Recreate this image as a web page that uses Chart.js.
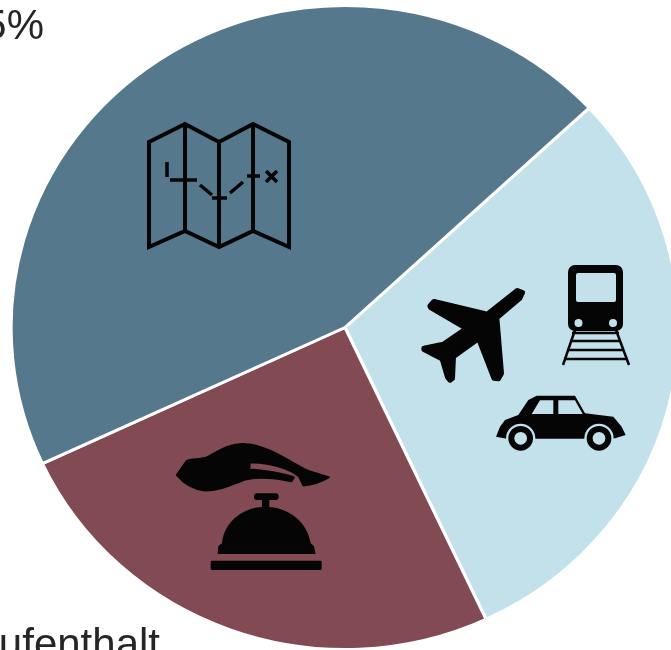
<!DOCTYPE html>
<html>
<head>
<meta charset="utf-8">
<script src="https://cdn.jsdelivr.net/npm/chart.js@4"></script>
<style>
html, body { margin: 0; background: #fff; overflow: hidden; }
#pie { display: block; }
</style>
</head>
<body>
<canvas id="pie" width="671" height="650"></canvas>
<script>
const categories = ['Aktivitäten', 'Anreise', 'Aufenthalt'];
const shares = [45, 30, 25];
const sliceColors = ['#56788c', '#c2e1ea', '#824a53'];

// order on the wheel, clockwise from the light slice
const wheelOrder = [1, 2, 0];

// the pie is a little wider than tall
const WIDEN = 1.037;
const INK = '#050505';

function strokeLines(ctx, lines, width) {
    ctx.lineWidth = width;
    ctx.lineCap = 'butt';
    lines.forEach(l => {
        ctx.beginPath();
        ctx.moveTo(l[0], l[1]);
        for (let i = 2; i < l.length; i += 2) ctx.lineTo(l[i], l[i + 1]);
        ctx.stroke();
    });
}

function drawMap(ctx) {
    ctx.lineJoin = 'miter';
    const outline = new Path2D('M149 142 L185 124 L219 142 L253 124 L289 142 L289 247 L253 231 L219 247 L185 231 L149 247 Z');
    ctx.lineWidth = 4;
    ctx.stroke(outline);
    strokeLines(ctx, [[185, 124, 185, 231], [219, 142, 219, 247], [253, 124, 253, 231]], 4);
    // dashed route across the folds
    strokeLines(ctx, [[167, 162, 167, 177], [170, 180, 197, 180], [200, 185, 212, 195], [212, 198, 227, 198],
        [230, 193, 243, 182], [247, 176, 260, 176], [266, 171, 277, 182], [277, 171, 266, 182]], 3.5);
}

function drawPlane(ctx) {
    ctx.save();
    ctx.translate(400, 250);
    ctx.scale(1 / 3, 1 / 3);
    const p = new Path2D('M352 122 L367 128 L359 145 L290 203 L304 370 L295 386 L282 384 L236 265 L160 320 L157 385 L150 390 L143 382 L127 327 L72 298 L72 295 L130 283 L200 235 L92 172 L90 168 L102 155 L262 193 Z');
    ctx.lineJoin = 'round';
    ctx.lineWidth = 16;
    ctx.fill(p);
    ctx.stroke(p);
    ctx.restore();
}

function drawTrain(ctx, bg) {
    ctx.beginPath();
    ctx.roundRect(568, 265, 55, 66, 7);
    ctx.fill();
    ctx.fillStyle = bg;
    ctx.beginPath();
    ctx.roundRect(576, 273, 40, 29, 2);
    ctx.fill();
    ctx.beginPath();
    ctx.arc(578.5, 323, 4, 0, Math.PI * 2);
    ctx.arc(613, 323, 4, 0, Math.PI * 2);
    ctx.fill();
    ctx.fillStyle = INK;
    // track in perspective
    strokeLines(ctx, [[575, 330, 563, 365], [616, 330, 629, 365]], 2.5);
    strokeLines(ctx, [[572, 333, 619, 333], [570, 341, 621, 341], [567, 350, 624, 350], [564, 359, 627, 359]], 2.5);
}

function drawCar(ctx, bg) {
    ctx.save();
    ctx.translate(400, 250);
    ctx.scale(1 / 3, 1 / 3);
    const body = new Path2D('M288 560 L300 530 L315 510 L355 495 L385 450 L410 437 L525 437 L555 490 L640 500 L665 530 L677 555 L640 566 L320 566 Z');
    ctx.fill(body);
    ctx.fillStyle = bg;
    ctx.fill(new Path2D('M395 492 L420 451 L460 451 L460 492 Z'));
    ctx.fill(new Path2D('M475 492 L475 451 L525 451 L548 492 Z'));
    [362, 597].forEach(x => {
        ctx.fillStyle = bg;
        ctx.beginPath();
        ctx.arc(x, 565, 44, 0, Math.PI * 2);
        ctx.fill();
        ctx.fillStyle = INK;
        ctx.beginPath();
        ctx.arc(x, 565, 37, 0, Math.PI * 2);
        ctx.fill();
        ctx.fillStyle = bg;
        ctx.beginPath();
        ctx.arc(x, 565, 19, 0, Math.PI * 2);
        ctx.fill();
    });
    ctx.restore();
}

function drawBell(ctx) {
    ctx.save();
    ctx.translate(150, 420);
    ctx.scale(1 / 3, 1 / 3);
    // hand above the bell
    const hand = new Path2D('M80 165 L110 122 C130 115 150 120 170 112 C210 90 240 68 290 72 C350 75 420 125 470 150 C495 160 520 165 537 172 C515 185 490 195 460 197 L447 170 C420 145 350 125 300 128 L298 148 C340 150 400 160 432 172 L425 184 C380 175 330 170 290 178 C250 192 210 212 165 212 C130 208 100 190 80 165 Z');
    ctx.lineJoin = 'round';
    ctx.lineWidth = 5;
    ctx.fill(hand);
    ctx.stroke(hand);
    ctx.fill(new Path2D('M203 402 L205 378 L216 370 C222 305 280 260 345 260 C415 260 472 305 482 370 L492 378 L497 402 Z'));
    ctx.beginPath();
    ctx.roundRect(312, 220, 74, 20, 9);
    ctx.roundRect(336, 235, 22, 35, 2);
    ctx.roundRect(182, 422, 333, 28, 4);
    ctx.fill();
    ctx.restore();
}

const widenPie = {
    id: 'widenPie',
    beforeDatasetsDraw(chart) {
        const arc = chart.getDatasetMeta(0).data[0];
        const ctx = chart.ctx;
        ctx.save();
        ctx.translate(arc.x, 0);
        ctx.scale(WIDEN, 1);
        ctx.translate(-arc.x, 0);
    },
    afterDatasetsDraw(chart) {
        chart.ctx.restore();
    }
};

const sliceArt = {
    id: 'sliceArt',
    afterDraw(chart) {
        const ctx = chart.ctx;
        ctx.save();
        ctx.fillStyle = INK;
        ctx.strokeStyle = INK;
        drawMap(ctx);
        drawPlane(ctx);
        drawTrain(ctx, sliceColors[1]);
        ctx.fillStyle = INK;
        drawCar(ctx, sliceColors[1]);
        ctx.fillStyle = INK;
        drawBell(ctx);

        // outer labels, both run off the edge of the canvas
        ctx.fillStyle = '#262626';
        ctx.font = '42px "Liberation Sans"';
        ctx.textAlign = 'right';
        ctx.textBaseline = 'alphabetic';
        ctx.fillText(shares[0] + '%', 44, 39);
        ctx.fillText(categories[2], 160, 658);
        ctx.restore();
    }
};

new Chart(document.getElementById('pie').getContext('2d'), {
    type: 'pie',
    data: {
        labels: wheelOrder.map(i => categories[i]),
        datasets: [{
            data: wheelOrder.map(i => shares[i]),
            backgroundColor: wheelOrder.map(i => sliceColors[i]),
            borderColor: '#ffffff',
            borderWidth: 3
        }]
    },
    options: {
        responsive: false,
        animation: false,
        rotation: 47,
        radius: 322,
        layout: { padding: { left: 19, top: 5 } },
        plugins: { legend: { display: false }, tooltip: { enabled: false } }
    },
    plugins: [widenPie, sliceArt]
});
</script>
</body>
</html>
